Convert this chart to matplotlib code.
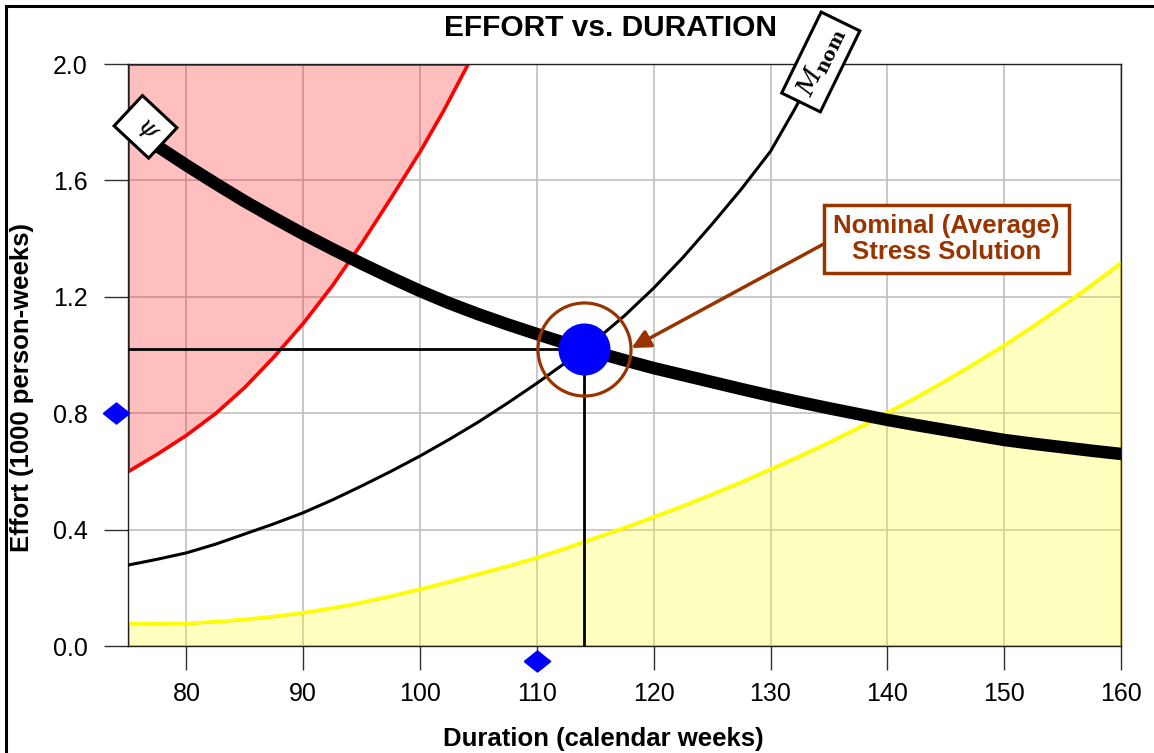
import numpy as np
import matplotlib.pyplot as plt
from matplotlib.lines import Line2D

plt.rcParams['font.family'] = ['Liberation Sans', 'DejaVu Sans']
plt.rcParams['mathtext.fontset'] = 'dejavuserif'

# ---- data ----
weeks = [75, 77.5, 80, 82.5, 85, 87.5, 90, 92.5, 95, 97.5, 100, 102.5, 105, 107.5, 110, 112.5,
         115, 117.5, 120, 122.5, 125, 127.5, 130, 132.5, 135, 137.5, 140, 142.5, 145, 147.5,
         150, 152.5, 155, 157.5, 160]
effort_psi = [1.786, 1.718, 1.652, 1.589, 1.528, 1.471, 1.416, 1.364, 1.314, 1.266, 1.22, 1.178,
              1.14, 1.105, 1.072, 1.04, 1.010, 0.982, 0.955, 0.931, 0.907, 0.883, 0.860, 0.838,
              0.817, 0.797, 0.777, 0.759, 0.742, 0.725, 0.708, 0.695, 0.683, 0.671, 0.660]
effort_low = [0.078, 0.077, 0.078, 0.084, 0.092, 0.102, 0.115, 0.131, 0.150, 0.172, 0.196, 0.221,
              0.248, 0.275, 0.304, 0.337, 0.372, 0.407, 0.444, 0.482, 0.522, 0.564, 0.608, 0.653,
              0.700, 0.750, 0.802, 0.856, 0.913, 0.972, 1.034, 1.100, 1.170, 1.242, 1.317]

mnom_weeks = [75, 77.5, 80, 82.5, 85, 87.5, 90, 92.5, 95, 97.5, 100, 102.5, 105, 107.5, 110,
              112.5, 115, 117.5, 120, 122.5, 125, 127.5, 130, 132, 133.5]
effort_mnom = [0.278, 0.298, 0.32, 0.35, 0.385, 0.42, 0.458, 0.502, 0.55, 0.60, 0.653, 0.71,
               0.77, 0.835, 0.903, 0.975, 1.05, 1.135, 1.23, 1.335, 1.45, 1.57, 1.70, 1.84, 1.95]

high_weeks = [75, 77.5, 80, 82.5, 85, 87.5, 90, 92.5, 95, 97.5, 100, 102, 104.1]
effort_high = [0.60, 0.66, 0.725, 0.80, 0.89, 0.995, 1.11, 1.24, 1.385, 1.54, 1.70, 1.84, 2.0]

nominal_weeks = 114
nominal_effort = 1.02

marker_weeks = [74, 110]
marker_effort = [0.8, -0.05]

xticks = [80, 90, 100, 110, 120, 130, 140, 150, 160]
yticks = [0.0, 0.4, 0.8, 1.2, 1.6, 2.0]

brown = '#993300'

fig = plt.figure(figsize=(11.54, 7.53), dpi=100)
ax = fig.add_axes([128/1154, 1-646/753, (1121-128)/1154, (646-64)/753])

# shaded regions
ax.fill_between(high_weeks, effort_high, 2.0, facecolor=(1, 0, 0, 0.25), edgecolor='red', lw=2, zorder=1)
ax.plot(high_weeks, effort_high, color='red', lw=2.2, zorder=2)
ax.fill_between(weeks, 0, effort_low, facecolor=(1, 1, 0, 0.25), edgecolor='#e6e600', lw=2, zorder=1)
ax.plot(weeks, effort_low, color='yellow', lw=2.4, zorder=2)

# M_nom curve
ax.plot(mnom_weeks, effort_mnom, color='black', lw=2.2, zorder=3)

# nominal reference lines
ax.plot([75, nominal_weeks], [nominal_effort, nominal_effort], color='black', lw=2, zorder=3)
ax.plot([nominal_weeks, nominal_weeks], [0, nominal_effort], color='black', lw=2, zorder=3)

# psi curve
ax.plot(weeks, effort_psi, color='black', lw=9, solid_capstyle='round', solid_joinstyle='round', zorder=4)

# nominal point
ax.plot(nominal_weeks, nominal_effort, 'o', color='blue', ms=36.5, zorder=5)
ax.plot(nominal_weeks, nominal_effort, 'o', mfc='none', mec=brown, mew=2.3, ms=67, zorder=6)

# blue diamonds on the axes
diamond = [(-1, 0), (0, 0.8), (1, 0), (0, -0.8), (-1, 0)]
ax.plot(marker_weeks, marker_effort, linestyle='none', marker=diamond, color='blue', ms=19,
        clip_on=False, zorder=7)

# curve labels
ax.text(76.5, 1.784, r'$\ \psi\ $', fontsize=18, rotation=-43, ha='center', va='center',
        bbox=dict(boxstyle='square,pad=0.35', fc='white', ec='black', lw=2.2), zorder=8)
ax.text(134.3, 2.007, r'$M_{\mathbf{nom}}$', fontsize=19, rotation=64, ha='center', va='center',
        bbox=dict(boxstyle='square,pad=0.3', fc='white', ec='black', lw=2.2), zorder=8)

ax.annotate('Nominal (Average)\nStress Solution', xy=(118.1, 1.024), xytext=(145.05, 1.399),
            ha='center', va='center', fontsize=18.5, fontweight='bold', color=brown, linespacing=1.1,
            bbox=dict(boxstyle='square,pad=0.35', fc='white', ec=brown, lw=2.5),
            arrowprops=dict(arrowstyle='-|>', color=brown, lw=2.5, mutation_scale=28,
                            relpos=(0, 0.5), shrinkA=0, shrinkB=0), zorder=8)

ax.set_xlim(75, 160)
ax.set_ylim(0, 2.0)
ax.set_xticks(xticks)
ax.set_yticks(yticks)
ax.set_yticklabels(['%.1f' % v for v in yticks])
ax.grid(True, color='#c0c0c0', lw=1.2)
ax.set_axisbelow(True)
ax.tick_params(axis='x', direction='out', length=17, width=1, color='#303030', labelsize=18, pad=9)
ax.tick_params(axis='y', direction='out', length=17, width=1, color='#303030', labelsize=18, pad=12)
for s in ax.spines.values():
    s.set_color('#202020')
    s.set_linewidth(1)

fig.text(610/1154, 1-28/753, 'EFFORT vs. DURATION', ha='center', va='center', fontsize=21.5, fontweight='bold')
fig.text(603/1154, 1-739/753, 'Duration (calendar weeks)', ha='center', va='center', fontsize=18.5, fontweight='bold')
fig.text(22/1154, 1-387/753, 'Effort (1000 person-weeks)', ha='center', va='center', rotation=90,
         fontsize=18.5, fontweight='bold')

# outer frame (left and top visible)
fig.add_artist(Line2D([6/1154, 6/1154], [0, 1-6/753], color='black', lw=2.2, transform=fig.transFigure))
fig.add_artist(Line2D([6/1154, 1], [1-6/753, 1-6/753], color='black', lw=2.2, transform=fig.transFigure))

fig.savefig('out.png', dpi=100)
